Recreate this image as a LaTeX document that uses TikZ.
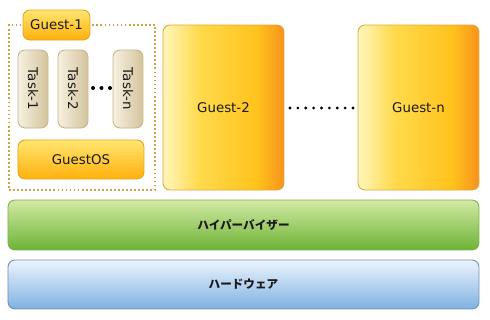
\documentclass[tikz,border=0pt]{standalone}
\usepackage{graphicx}
\usepackage{fontspec}
\setmainfont{DejaVu Sans}
\newfontfamily\jpfont{Noto Sans CJK JP}
\usepackage{tikz}

\definecolor{guestpale}{HTML}{FFF6BC}
\definecolor{guestyellow}{HTML}{FFDA4C}
\definecolor{guestgold}{HTML}{FFC21C}
\definecolor{guestorange}{HTML}{F8931E}
\definecolor{guestedge}{HTML}{E2A634}
\definecolor{framedot}{HTML}{C9A24A}
\definecolor{taskpale}{HTML}{F6F0DF}
\definecolor{taskdark}{HTML}{D4C49D}
\definecolor{taskedge}{HTML}{C7B58A}
\definecolor{ostop}{HTML}{FFE670}
\definecolor{osbottom}{HTML}{FFB00C}
\definecolor{osedge}{HTML}{E8A21A}
\definecolor{hvtop}{HTML}{D2EAA4}
\definecolor{hvbottom}{HTML}{6CB336}
\definecolor{hvedge}{HTML}{84B04A}
\definecolor{hwtop}{HTML}{EBF4FD}
\definecolor{hwbottom}{HTML}{7FB1E1}
\definecolor{hwedge}{HTML}{6F90B6}
\definecolor{inktext}{HTML}{1A1A1A}

\pgfdeclarehorizontalshading{guestshade}{100bp}{color(0bp)=(guestpale);
  color(25bp)=(guestpale); color(40bp)=(guestyellow); color(64bp)=(guestgold);
  color(75bp)=(guestorange); color(100bp)=(guestorange)}
\pgfdeclarehorizontalshading{taskshade}{100bp}{color(0bp)=(taskpale);
  color(25bp)=(taskpale); color(75bp)=(taskdark); color(100bp)=(taskdark)}

\begin{document}
\begin{tikzpicture}[x=1cm,y=1cm,font=\fontsize{7.6}{9}\selectfont,text=inktext,
    box/.style={inner sep=0pt,outer sep=0pt,line width=0.5pt,rounded corners=4pt},
    guest/.style={box,draw=guestedge,shading=guestshade,
        minimum width=2.42cm,minimum height=3.30cm},
    task/.style={box,draw=taskedge,shading=taskshade,
        minimum width=0.60cm,minimum height=1.56cm},
    osbox/.style={box,draw=osedge,top color=ostop,bottom color=osbottom},
    layer/.style={box,minimum width=9.42cm,font=\jpfont\fontsize{6.6}{8}\selectfont\bfseries},
    guestframe/.style={draw=framedot,line width=1pt,dash pattern=on 1pt off 1.3pt,
        inner sep=0pt,minimum width=2.92cm,minimum height=3.30cm}]
    \useasboundingbox (0,0) rectangle (9.8,6.4);

    % Guest-1 with its tasks
    \node[guestframe] (frame1) at (1.64,4.25) {};
    \node[osbox,minimum width=1.34cm,minimum height=0.60cm] (guest1) at (1.13,5.90) {Guest-1};
    \foreach \t/\x in {1/0.66,2/1.46,n/2.56}{
        \node[task] (task\t) at (\x,4.62) {\rotatebox{-90}{Task-\t}};
    }
    \foreach \x in {1.86,2.03,2.20}{
        \fill (\x,4.64) circle (0.04);
    }
    \node[osbox,minimum width=2.52cm,minimum height=0.78cm] (guestos) at (1.62,3.21) {GuestOS};

    % other guests
    \node[guest] (guest2) at (4.47,4.25) {Guest-2};
    \node[guest] (guestn) at (8.37,4.25) {Guest-n};
    \foreach \i in {0,...,8}{
        \fill ({5.80+0.1575*\i},4.24) circle (0.032);
    }

    % layers
    \node[layer,draw=hvedge,top color=hvtop,bottom color=hvbottom,minimum height=1.00cm]
        (hypervisor) at (4.87,1.90) {ハイパーバイザー};
    \node[layer,draw=hwedge,top color=hwtop,bottom color=hwbottom,minimum height=0.98cm]
        (hardware) at (4.87,0.71) {ハードウェア};
\end{tikzpicture}
\end{document}
